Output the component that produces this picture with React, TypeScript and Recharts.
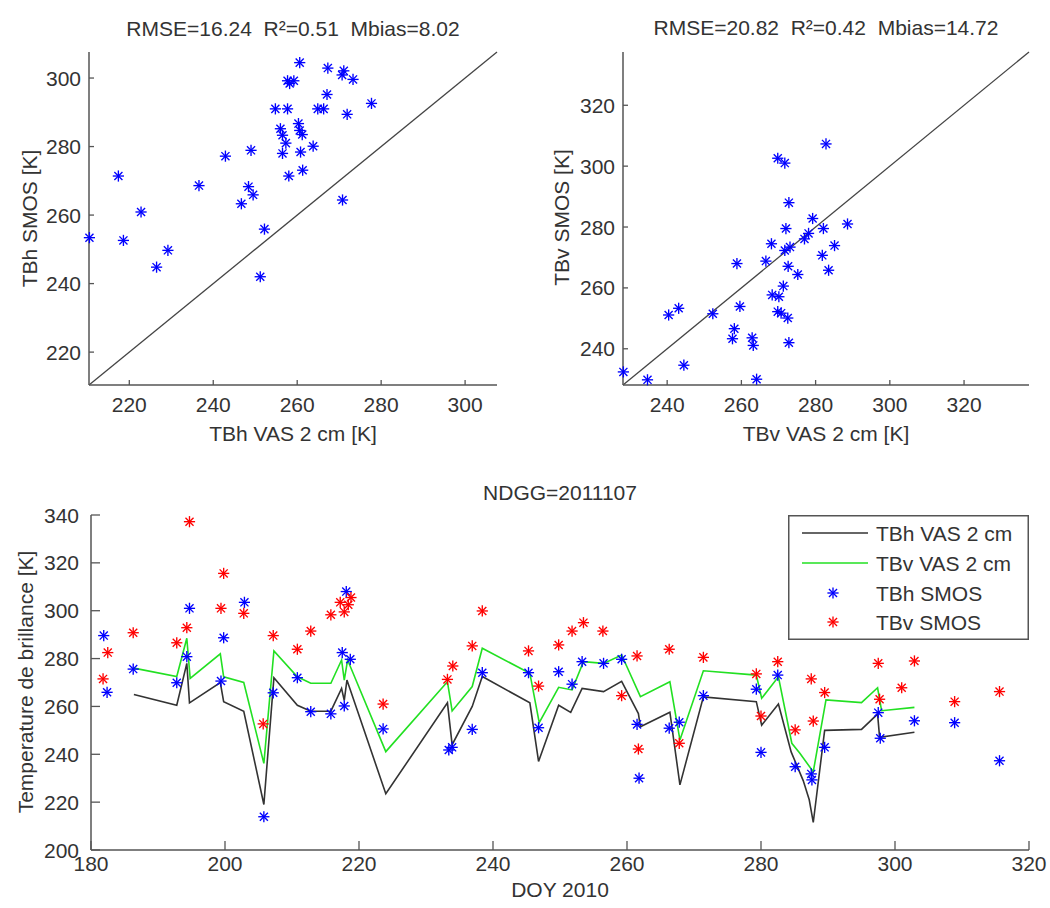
import React from 'react';
import { ScatterChart, Scatter, XAxis, YAxis, ReferenceLine, Legend } from 'recharts';

const FONT = '"Liberation Sans", Arial, Helvetica, sans-serif';
const FS = 21;
const AXIS_COLOR = '#555555';
const TEXT_COLOR = '#333333';
const BLUE = '#0000ff';
const RED = '#ff0000';
const BLACK_LINE = '#333333';
const GREEN_LINE = '#22e022';

// ---------------- Top-left: TBh ----------------
const tlTitle = 'RMSE=16.24  R\u00b2=0.51  Mbias=8.02';
const tlXLabel = 'TBh VAS 2 cm [K]';
const tlYLabel = 'TBh SMOS [K]';
const tlTicks = [220, 240, 260, 280, 300];
const tlDomain: [number, number] = [210.4, 307.6];
const tlVas = [260.6, 267.3, 271.1, 270.7, 273.3, 257.7, 259.2, 258.2, 267.1, 254.8, 257.7, 264.9, 266.3, 277.7, 271.9, 260.3, 256.0, 260.6, 261.2, 256.5, 257.3, 263.8, 249.0, 256.5, 260.8, 242.9, 217.4, 258.0, 261.3, 236.6, 248.4, 249.5, 246.7, 270.8, 222.8, 252.2, 210.5, 218.6, 229.2, 226.5, 251.2];
const tlSmos = [304.5, 302.9, 302.1, 300.9, 299.6, 299.2, 299.2, 298.4, 295.2, 291.0, 291.0, 291.0, 291.0, 292.6, 289.4, 286.7, 285.2, 284.7, 283.5, 283.3, 281.0, 280.1, 278.9, 278.0, 278.4, 277.2, 271.4, 271.4, 273.1, 268.6, 268.3, 265.9, 263.3, 264.4, 260.9, 255.9, 253.4, 252.6, 249.7, 244.8, 242.0];

// ---------------- Top-right: TBv ----------------
const trTitle = 'RMSE=20.82  R\u00b2=0.42  Mbias=14.72';
const trXLabel = 'TBv VAS 2 cm [K]';
const trYLabel = 'TBv SMOS [K]';
const trTicks = [240, 260, 280, 300, 320];
const trDomain: [number, number] = [228.1, 337.5];
const trVas = [282.8, 269.8, 271.7, 272.8, 279.2, 288.6, 272.0, 282.1, 278.1, 277.0, 268.1, 285.1, 273.1, 271.7, 281.8, 266.6, 258.8, 272.6, 283.5, 275.2, 271.3, 268.3, 270.1, 259.6, 243.1, 240.4, 252.3, 269.8, 270.7, 272.5, 258.1, 257.6, 262.9, 263.2, 272.8, 244.5, 228.2, 234.7, 264.1];
const trSmos = [307.3, 302.6, 301.0, 288.0, 282.8, 281.0, 279.5, 279.5, 277.9, 276.1, 274.5, 273.9, 273.4, 272.3, 270.7, 268.8, 268.0, 267.1, 265.8, 264.4, 260.6, 257.7, 257.1, 253.9, 253.3, 251.1, 251.5, 252.2, 251.7, 250.1, 246.6, 243.3, 243.6, 241.1, 242.0, 234.6, 232.4, 229.8, 230.0];

// ---------------- Bottom: time series ----------------
const btTitle = 'NDGG=2011107';
const btXLabel = 'DOY 2010';
const btYLabel = 'Temperature de brillance [K]';
const btXTicks = [180, 200, 220, 240, 260, 280, 300, 320];
const btYTicks = [200, 220, 240, 260, 280, 300, 320, 340];
const btXDomain: [number, number] = [180, 320];
const btYDomain: [number, number] = [200, 340];
const legendLabels = ['TBh VAS 2 cm', 'TBv VAS 2 cm', 'TBh SMOS', 'TBv SMOS'];

const tbhVasDoy = [186.4, 192.8, 194.3, 194.7, 199.3, 199.8, 202.8, 205.8, 207.3, 210.8, 212.8, 215.8, 217.4, 217.8, 218.2, 224.0, 233.2, 233.9, 236.9, 238.4, 245.5, 246.8, 249.8, 251.6, 253.3, 256.5, 259.2, 261.7, 262.0, 266.4, 267.9, 271.4, 279.3, 280.1, 282.6, 284.5, 286.3, 287.2, 287.8, 289.5, 295.0, 297.4, 297.7, 302.9];
const tbhVasVal = [265.0, 260.5, 278.0, 261.5, 270.0, 262.0, 258.0, 219.0, 272.0, 260.5, 258.0, 258.0, 267.5, 262.5, 271.0, 223.5, 261.5, 244.0, 260.0, 272.5, 261.5, 237.0, 260.5, 257.5, 267.5, 266.2, 270.5, 257.0, 251.5, 257.6, 227.2, 264.0, 262.0, 252.2, 261.0, 241.0, 229.0, 221.0, 211.5, 250.0, 250.4, 256.8, 247.1, 249.2];

const tbvVasDoy = [186.4, 192.8, 194.3, 194.8, 199.3, 199.8, 202.8, 205.8, 207.3, 210.8, 212.8, 215.8, 217.4, 217.8, 218.3, 224.0, 233.2, 233.9, 236.9, 238.4, 245.5, 246.9, 249.8, 251.8, 253.5, 256.5, 259.2, 262.0, 266.4, 267.9, 271.4, 279.3, 280.1, 282.6, 284.6, 285.8, 287.8, 289.7, 295.0, 297.4, 298.0, 302.9];
const tbvVasVal = [276.0, 272.5, 288.5, 271.7, 282.0, 272.4, 270.0, 236.2, 283.2, 272.4, 269.7, 269.7, 279.4, 271.0, 279.4, 241.1, 270.3, 258.1, 268.3, 284.3, 273.9, 253.2, 268.0, 266.9, 278.7, 278.0, 281.5, 264.1, 270.3, 246.0, 274.9, 273.1, 263.4, 272.4, 244.6, 240.4, 232.7, 262.7, 261.6, 267.8, 258.2, 259.6];

const smosHDoy = [181.9, 182.4, 186.3, 192.8, 194.3, 194.7, 199.4, 199.8, 202.9, 205.8, 207.2, 210.8, 212.8, 215.8, 217.5, 217.8, 218.1, 218.7, 223.6, 233.4, 233.9, 236.9, 238.4, 245.3, 246.8, 249.8, 251.8, 253.3, 256.5, 259.2, 261.5, 261.8, 266.3, 267.8, 271.4, 279.3, 280.0, 282.5, 285.1, 287.5, 287.6, 289.5, 297.5, 297.8, 302.9, 308.9, 315.6];
const smosHVal = [289.6, 265.9, 275.6, 269.9, 280.8, 301.0, 270.6, 288.7, 303.5, 213.9, 265.7, 272.0, 257.8, 256.9, 282.5, 260.2, 308.0, 279.7, 250.6, 241.8, 242.9, 250.4, 274.1, 274.1, 251.1, 274.5, 269.3, 278.7, 278.0, 279.7, 252.5, 230.0, 250.9, 253.4, 264.5, 267.2, 240.8, 273.1, 234.8, 231.8, 229.3, 242.9, 257.4, 246.7, 254.0, 253.2, 237.3];

const smosVDoy = [181.8, 182.5, 186.3, 192.8, 194.3, 194.7, 199.4, 199.8, 202.8, 205.7, 207.2, 210.8, 212.8, 215.8, 217.2, 217.8, 218.4, 218.8, 223.6, 233.2, 234.0, 236.9, 238.4, 245.3, 246.8, 249.8, 251.8, 253.5, 256.4, 259.2, 261.5, 261.7, 266.3, 267.8, 271.4, 279.3, 280.0, 282.5, 285.1, 287.5, 287.8, 289.5, 297.5, 297.7, 301.0, 302.9, 308.9, 315.6];
const smosVVal = [271.5, 282.5, 290.8, 286.6, 292.9, 337.2, 301.0, 315.6, 298.9, 252.7, 289.6, 283.9, 291.5, 298.3, 303.5, 299.5, 302.5, 305.5, 261.0, 271.3, 276.9, 285.3, 299.9, 283.2, 268.5, 285.7, 291.5, 295.0, 291.5, 264.5, 281.1, 242.2, 283.9, 244.6, 280.5, 273.6, 256.0, 278.7, 250.2, 271.5, 253.9, 265.8, 278.0, 263.0, 267.8, 279.0, 262.0, 266.2];

const zip = (xs: number[], ys: number[]) => xs.map((x, i) => ({ x, y: ys[i] }));

const tlData = zip(tlVas, tlSmos);
const trData = zip(trVas, trSmos);
const tbhLine = zip(tbhVasDoy, tbhVasVal);
const tbvLine = zip(tbvVasDoy, tbvVasVal);
const smosH = zip(smosHDoy, smosHVal);
const smosV = zip(smosVDoy, smosVVal);

const makeAsterisk = (color: string, r = 5.6) => (props: any) => {
  const { cx, cy } = props;
  if (cx == null || cy == null) return <g />;
  const d = r * 0.72;
  return (
    <g stroke={color} strokeWidth={1.35}>
      <line x1={cx - r} y1={cy} x2={cx + r} y2={cy} />
      <line x1={cx} y1={cy - r} x2={cx} y2={cy + r} />
      <line x1={cx - d} y1={cy - d} x2={cx + d} y2={cy + d} />
      <line x1={cx - d} y1={cy + d} x2={cx + d} y2={cy - d} />
    </g>
  );
};
const EmptyShape = () => <g />;

type Side = 'bottom' | 'top' | 'left' | 'right';
const makeTick = (side: Side, len: number, gap: number, label: boolean) => (props: any) => {
  const { x, y, payload } = props;
  const v = payload ? payload.value : '';
  const txt = { fill: TEXT_COLOR, fontSize: FS, fontFamily: FONT } as any;
  if (side === 'bottom') {
    return (
      <g>
        <line x1={x} y1={y} x2={x} y2={y - len} stroke={AXIS_COLOR} strokeWidth={1.3} />
        {label && <text x={x} y={y + gap} textAnchor="middle" {...txt}>{v}</text>}
      </g>
    );
  }
  if (side === 'top') {
    return <line x1={x} y1={y} x2={x} y2={y + len} stroke={AXIS_COLOR} strokeWidth={1.3} />;
  }
  if (side === 'left') {
    return (
      <g>
        <line x1={x} y1={y} x2={x + len} y2={y} stroke={AXIS_COLOR} strokeWidth={1.3} />
        {label && <text x={x - gap} y={y} dy="0.36em" textAnchor="end" {...txt}>{v}</text>}
      </g>
    );
  }
  return <line x1={x} y1={y} x2={x - len} y2={y} stroke={AXIS_COLOR} strokeWidth={1.3} />;
};

const axisLine = { stroke: AXIS_COLOR, strokeWidth: 1.5 };

function ScatterPanel(props: {
  data: { x: number; y: number }[];
  domain: [number, number];
  ticks: number[];
  yAxisWidth: number;
  right: number;
}) {
  const { data, domain, ticks, yAxisWidth, right } = props;
  return (
    <ScatterChart width={520} height={440} margin={{ top: 52, right, bottom: 0, left: 0 }}>
      <XAxis type="number" dataKey="x" domain={domain} ticks={ticks} interval={0} height={55}
        tickSize={0} tickMargin={0} tickLine={false} axisLine={axisLine}
        tick={makeTick('bottom', 5, 27, true)} />
      <XAxis xAxisId="top" orientation="top" type="number" domain={domain} ticks={ticks} interval={0}
        height={0} tickSize={0} tickMargin={0} tickLine={false} axisLine={axisLine} allowDataOverflow
        tick={makeTick('top', 5, 0, false)} />
      <YAxis type="number" dataKey="y" domain={domain} ticks={ticks} interval={0} width={yAxisWidth}
        tickSize={0} tickMargin={0} tickLine={false} axisLine={axisLine}
        tick={makeTick('left', 5, 8, true)} />
      <YAxis yAxisId="right" orientation="right" type="number" domain={domain} ticks={ticks} interval={0}
        width={0} tickSize={0} tickMargin={0} tickLine={false} axisLine={axisLine} allowDataOverflow
        tick={makeTick('right', 5, 0, false)} />
      <ReferenceLine segment={[{ x: domain[0], y: domain[0] }, { x: domain[1], y: domain[1] }]}
        stroke="#444444" strokeWidth={1.3} ifOverflow="visible" />
      <Scatter data={data} shape={makeAsterisk(BLUE)} isAnimationActive={false} />
    </ScatterChart>
  );
}

const LegendBox = () => {
  const rows = [18, 48, 78, 107];
  const kinds = [
    { kind: 'line', color: BLACK_LINE },
    { kind: 'line', color: GREEN_LINE },
    { kind: 'mark', color: BLUE },
    { kind: 'mark', color: RED },
  ];
  return (
    <svg width={241} height={125} style={{ display: 'block' }}>
      <rect x={0.75} y={0.75} width={239.5} height={123.5} fill="#ffffff" stroke={AXIS_COLOR} strokeWidth={1.5} />
      {legendLabels.map((lab, i) => {
        const cy = rows[i];
        const k = kinds[i];
        return (
          <g key={lab}>
            {k.kind === 'line' ? (
              <line x1={14} y1={cy} x2={80} y2={cy} stroke={k.color} strokeWidth={1.6} />
            ) : (
              makeAsterisk(k.color)({ cx: 45, cy })
            )}
            <text x={88} y={cy} dy="0.36em" fill={TEXT_COLOR} fontSize={FS} fontFamily={FONT}>{lab}</text>
          </g>
        );
      })}
    </svg>
  );
};

export default function App() {
  const txt = { fill: TEXT_COLOR, fontSize: FS, fontFamily: FONT } as any;
  return (
    <div style={{ position: 'absolute', left: 0, top: 0, width: 1050, height: 908, background: '#ffffff', fontFamily: FONT }}>
      <div style={{ position: 'absolute', left: 0, top: 0 }}>
        <ScatterPanel data={tlData} domain={tlDomain} ticks={tlTicks} yAxisWidth={89} right={23} />
      </div>
      <div style={{ position: 'absolute', left: 530, top: 0 }}>
        <ScatterPanel data={trData} domain={trDomain} ticks={trTicks} yAxisWidth={93} right={21} />
      </div>
      <div style={{ position: 'absolute', left: 0, top: 460 }}>
        <ScatterChart width={1050} height={448} margin={{ top: 55, right: 21, bottom: 0, left: 0 }}>
          <XAxis type="number" dataKey="x" domain={btXDomain} ticks={btXTicks} interval={0} height={58}
            tickSize={0} tickMargin={0} tickLine={false} axisLine={axisLine}
            tick={makeTick('bottom', 9, 21, true)} />
          <XAxis xAxisId="top" orientation="top" type="number" domain={btXDomain} ticks={btXTicks} interval={0}
            height={0} tickSize={0} tickMargin={0} tickLine={false} axisLine={axisLine} allowDataOverflow
            tick={makeTick('top', 9, 0, false)} />
          <YAxis type="number" dataKey="y" domain={btYDomain} ticks={btYTicks} interval={0} width={91}
            tickSize={0} tickMargin={0} tickLine={false} axisLine={axisLine}
            tick={makeTick('left', 9, 12, true)} />
          <YAxis yAxisId="right" orientation="right" type="number" domain={btYDomain} ticks={btYTicks} interval={0}
            width={0} tickSize={0} tickMargin={0} tickLine={false} axisLine={axisLine} allowDataOverflow
            tick={makeTick('right', 9, 0, false)} />
          <Scatter name={legendLabels[0]} data={tbhLine} shape={EmptyShape} line={{ stroke: BLACK_LINE, strokeWidth: 1.6 }} lineType="joint" isAnimationActive={false} />
          <Scatter name={legendLabels[1]} data={tbvLine} shape={EmptyShape} line={{ stroke: GREEN_LINE, strokeWidth: 1.6 }} lineType="joint" isAnimationActive={false} />
          <Scatter name={legendLabels[2]} data={smosH} shape={makeAsterisk(BLUE)} isAnimationActive={false} />
          <Scatter name={legendLabels[3]} data={smosV} shape={makeAsterisk(RED)} isAnimationActive={false} />
          <Legend content={<LegendBox />} layout="horizontal" verticalAlign="middle" align="center"
            wrapperStyle={{ left: 788, top: 55, width: 241, height: 125 }} />
        </ScatterChart>
      </div>
      <svg width={1050} height={908} style={{ position: 'absolute', left: 0, top: 0, pointerEvents: 'none' }}>
        <text x={293} y={36} textAnchor="middle" style={{ whiteSpace: 'pre' }} {...txt}>{tlTitle}</text>
        <text x={826} y={35} textAnchor="middle" style={{ whiteSpace: 'pre' }} {...txt}>{trTitle}</text>
        <text x={293} y={441} textAnchor="middle" {...txt}>{tlXLabel}</text>
        <text x={826} y={441} textAnchor="middle" {...txt}>{trXLabel}</text>
        <text transform="translate(37,218.5) rotate(-90)" textAnchor="middle" {...txt}>{tlYLabel}</text>
        <text transform="translate(569,217.5) rotate(-90)" textAnchor="middle" {...txt}>{trYLabel}</text>
        <text x={560} y={500} textAnchor="middle" {...txt}>{btTitle}</text>
        <text x={560} y={897} textAnchor="middle" {...txt}>{btXLabel}</text>
        <text transform="translate(33,682) rotate(-90)" textAnchor="middle" {...txt}>{btYLabel}</text>
      </svg>
    </div>
  );
}
